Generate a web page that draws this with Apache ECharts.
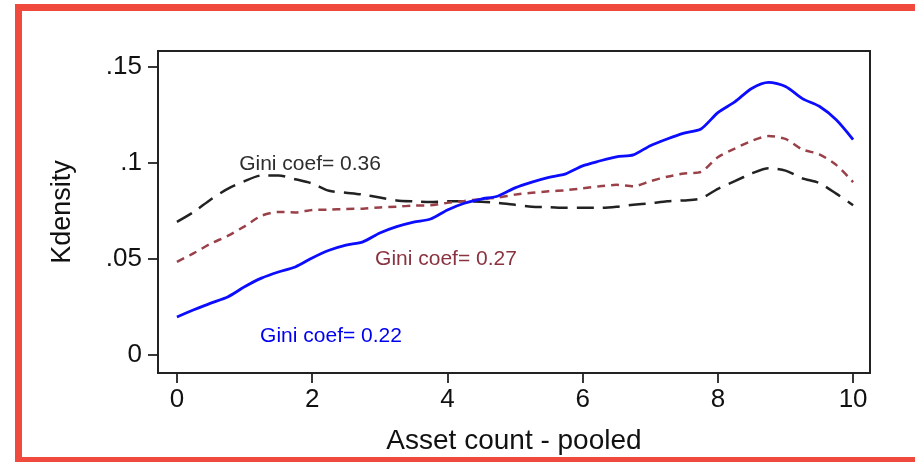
<!DOCTYPE html>
<html>
<head>
<meta charset="utf-8">
<script src="https://cdn.jsdelivr.net/npm/echarts@6/dist/echarts.min.js"></script>
<style>
  html, body { margin: 0; padding: 0; background: #fff; }
  #main { width: 915px; height: 462px; }
</style>
</head>
<body>
<div id="main"></div>
<script>
// asset count grid (x) shared by the three densities
const assetCount = [0, 0.25, 0.5, 0.75, 1, 1.25, 1.5, 1.75, 2, 2.25, 2.5, 2.75, 3, 3.25, 3.5, 3.75,
  4, 4.25, 4.5, 4.75, 5, 5.25, 5.5, 5.75, 6, 6.25, 6.5, 6.75, 7, 7.25, 7.5, 7.75,
  8, 8.25, 8.5, 8.75, 9, 9.25, 9.5, 9.75, 10];

// Gini 0.22 (blue, solid)
const kdens22 = [0.0198, 0.0235, 0.0270, 0.0302, 0.0355, 0.0400, 0.0432, 0.0458, 0.0505, 0.0545, 0.0572, 0.0589,
  0.0635, 0.0668, 0.0692, 0.0708, 0.0755, 0.0790, 0.0812, 0.0828, 0.0870, 0.0900, 0.0925, 0.0943,
  0.0985, 0.1010, 0.1032, 0.1042, 0.1090, 0.1125, 0.1155, 0.1177, 0.1262, 0.1318, 0.1388, 0.1420,
  0.1398, 0.1335, 0.1295, 0.1225, 0.1122];

// Gini 0.27 (maroon, short dash)
const kdens27 = [0.0485, 0.0530, 0.0580, 0.0620, 0.0670, 0.0725, 0.0745, 0.0742, 0.0755, 0.0757, 0.0760, 0.0762,
  0.0768, 0.0772, 0.0778, 0.0780, 0.0792, 0.0802, 0.0812, 0.0820, 0.0835, 0.0845, 0.0852, 0.0858,
  0.0868, 0.0878, 0.0886, 0.0878, 0.0905, 0.0928, 0.0945, 0.0953, 0.1030, 0.1075, 0.1115, 0.1140,
  0.1125, 0.1070, 0.1045, 0.0990, 0.0900];

// Gini 0.36 (black, long dash)
const kdens36 = [0.0693, 0.0745, 0.0810, 0.0865, 0.0905, 0.0935, 0.0935, 0.0915, 0.0893, 0.0855, 0.0845, 0.0835,
  0.0820, 0.0805, 0.0800, 0.0797, 0.0800, 0.0800, 0.0798, 0.0792, 0.0782, 0.0772, 0.0770, 0.0766,
  0.0766, 0.0766, 0.0772, 0.0782, 0.0790, 0.0800, 0.0805, 0.0815, 0.0865, 0.0905, 0.0945, 0.0972,
  0.0960, 0.0920, 0.0895, 0.0840, 0.0780];

const xTicks = [0, 2, 4, 6, 8, 10];
const yTicks = [0, 0.05, 0.1, 0.15];
const yTickLabels = ['0', '.05', '.1', '.15'];

// annotation text and where it sits (data coords of its left/middle)
const notes = [
  { text: 'Gini coef= 0.36', x: 0.92, y: 0.0995, color: '#2e2e2e' },
  { text: 'Gini coef= 0.27', x: 2.93, y: 0.0497, color: '#8a3340' },
  { text: 'Gini coef= 0.22', x: 1.23, y: 0.0099, color: '#0000f0' }
];

function pairs(ys) {
  return assetCount.map((x, i) => [x, ys[i]]);
}

const chart = echarts.init(document.getElementById('main'));
const axisColor = '#222';
const font = 'Liberation Sans, Arial, sans-serif';

chart.setOption({
  animation: false,
  backgroundColor: '#fff',
  grid: {
    show: true,
    left: 158, top: 51, right: 45, bottom: 89,
    borderColor: axisColor, borderWidth: 2,
    backgroundColor: 'transparent'
  },
  xAxis: {
    type: 'value',
    min: -0.28, max: 10.25,
    name: 'Asset count - pooled',
    nameLocation: 'middle',
    nameGap: 54,
    nameTextStyle: { fontSize: 28, color: '#111', fontFamily: font },
    axisLine: { show: false, onZero: false },
    splitLine: { show: false },
    axisTick: { show: true, inside: false, length: 10, customValues: xTicks, lineStyle: { color: axisColor, width: 1.8 } },
    axisLabel: { fontSize: 26, color: '#111', fontFamily: font, margin: 14, customValues: xTicks }
  },
  yAxis: {
    type: 'value',
    min: -0.0094, max: 0.1583,
    name: 'Kdensity',
    nameLocation: 'middle',
    nameGap: 82,
    nameRotate: 90,
    nameTextStyle: { fontSize: 27, color: '#111', fontFamily: font },
    axisLine: { show: false, onZero: false },
    splitLine: { show: false },
    axisTick: { show: true, inside: false, length: 10, customValues: yTicks, lineStyle: { color: axisColor, width: 1.8 } },
    axisLabel: {
      fontSize: 26, color: '#111', fontFamily: font, margin: 16, customValues: yTicks,
      formatter: v => yTickLabels[yTicks.findIndex(t => Math.abs(t - v) < 1e-9)]
    }
  },
  series: [
    {
      type: 'line', name: 'Gini 0.36', data: pairs(kdens36), showSymbol: false, smooth: 0.25,
      lineStyle: { color: '#222', width: 2.5, type: [17, 9] }, z: 3
    },
    {
      type: 'line', name: 'Gini 0.27', data: pairs(kdens27), showSymbol: false, smooth: 0.25,
      lineStyle: { color: '#9a4048', width: 2.5, type: [8, 6] }, z: 3
    },
    {
      type: 'line', name: 'Gini 0.22', data: pairs(kdens22), showSymbol: false, smooth: 0.25,
      lineStyle: { color: '#0c0cff', width: 2.8 }, z: 4
    },
    {
      type: 'scatter', name: 'notes', symbolSize: 0, silent: true,
      itemStyle: { opacity: 1 },
      data: notes.map(n => ({
        value: [n.x, n.y],
        label: {
          show: true, position: 'right', distance: 0, formatter: n.text,
          color: n.color, fontSize: 21, fontFamily: font, opacity: 1
        }
      }))
    }
  ],
  graphic: [
    { type: 'rect', shape: { x: 15, y: 4, width: 900, height: 7 }, style: { fill: '#f04a3e' } },
    { type: 'rect', shape: { x: 15, y: 4, width: 7, height: 458 }, style: { fill: '#f04a3e' } },
    { type: 'rect', shape: { x: 15, y: 457, width: 900, height: 5 }, style: { fill: '#f04a3e' } }
  ]
});
</script>
</body>
</html>
